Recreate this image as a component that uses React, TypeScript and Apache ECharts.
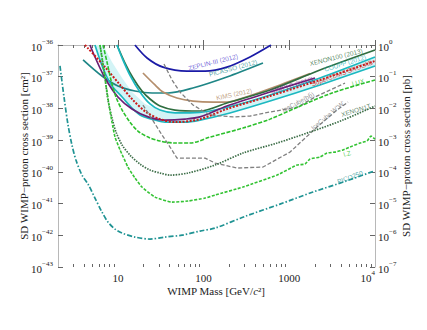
import { useEffect, useRef } from "react";
import * as echarts from "echarts";

// ---------- axes ----------
const massRange = [2, 10000];
const massMajorTicks = [10, 100, 1000, 10000];
const massMinorTicks = [3, 4, 5, 6, 7, 8, 9, 20, 30, 40, 50, 60, 70, 80, 90, 200, 300, 400, 500, 600, 700, 800, 900, 2000, 3000, 4000, 5000, 6000, 7000, 8000, 9000];
const cm2ExponentRange = [-43, -36];
const pbExponentRange = [-7, 0];

// ---------- curves (mass in GeV, cross section in cm^2) ----------
const zeplinMass = [15.8, 21.9, 33.6, 64, 104, 187, 348, 612];
const zeplinSigma = [1.0e-36, 3.9e-37, 2.0e-37, 1.5e-37, 1.5e-37, 2.0e-37, 4.2e-37, 1.0e-36];

const picassoMass = [3.92, 6.52, 10.0, 15.8, 25, 38.4, 75, 187, 493];
const picassoSigma = [3.4e-37, 1.05e-37, 5.1e-38, 3.54e-38, 3.06e-38, 3.06e-38, 4.4e-38, 9.8e-38, 2.7e-37];

const kimsMass = [19.6, 27.1, 33.6, 48.9, 75.2, 129, 187, 312, 778, 1745];
const kimsSigma = [1.31e-37, 5.5e-38, 3.3e-38, 2.13e-38, 1.71e-38, 1.59e-38, 1.59e-38, 2.29e-38, 5.5e-38, 1.25e-37];

const xenon100Mass = [9.76, 12.1, 15.0, 19.1, 23.7, 31.0, 46.4, 90.8, 187, 596, 2280, 10000];
const xenon100Sigma = [1.0e-36, 2.7e-37, 9.1e-38, 3.54e-38, 1.98e-38, 1.19e-38, 8.9e-39, 8.3e-39, 1.48e-38, 3.8e-38, 1.63e-37, 6.95e-37];

const couppMass = [9.76, 11.2, 13.8, 18.1, 23.7, 31.0, 46.4, 69.4, 119, 266, 596, 2280, 10000];
const couppSigma = [1.0e-36, 3.89e-37, 1.13e-37, 3.3e-38, 1.38e-38, 8.9e-39, 7.2e-39, 7.2e-39, 8.3e-39, 1.38e-38, 2.65e-38, 9.1e-38, 4.18e-37];

const bandLowerMass = [5.4, 6.18, 7.07, 8.53, 11.2, 14.6, 19.1, 27.1, 35.5, 60.7, 90.8, 203, 596, 2280, 10000];
const bandLowerSigma = [1.0e-36, 3.37e-37, 1.31e-37, 5.1e-38, 2.29e-38, 1.03e-38, 5.75e-39, 4.3e-39, 3.7e-39, 3.7e-39, 4.3e-39, 7.2e-39, 1.71e-38, 5.5e-38, 2.18e-37];

const bandUpperMass = [6.7, 8.53, 11.2, 14.6, 20.7, 31.0, 46.4, 69.4, 119, 266, 596, 2280, 10000];
const bandUpperSigma = [1.0e-36, 2.91e-37, 9.1e-38, 3.3e-38, 1.38e-38, 8.9e-39, 7.2e-39, 7.2e-39, 8.3e-39, 1.38e-38, 2.65e-38, 9.1e-38, 4.18e-37];

const simpleMass = [4.72, 5.4, 7.07, 10.0, 14.6, 22.5, 35.5, 60.7, 90.8, 187, 596, 1995];
const simpleSigma = [1.0e-36, 4.18e-37, 9.1e-38, 2.29e-38, 9.6e-39, 5.4e-39, 4.3e-39, 4.6e-39, 5.4e-39, 1.19e-38, 3.3e-38, 9.1e-38];

const snolabMass = [4.13, 7.07, 10.6, 15.0, 21.3, 31.0, 46.4, 90.8, 187, 596, 2280, 10000];
const snolabSigma = [1.0e-36, 2.02e-37, 5.5e-38, 1.84e-38, 7.7e-39, 4.6e-39, 3.7e-39, 4.6e-39, 9.6e-39, 2.46e-38, 7.9e-38, 3.13e-37];

const iceBBMass = [34.5, 42.8, 53.0, 75.2, 119, 220, 348, 521, 1262, 1995, 4467];
const iceBBSigma = [2.52e-37, 7.9e-38, 3.3e-38, 1.28e-38, 6.2e-39, 5.4e-39, 5.75e-39, 7.2e-39, 1.11e-38, 2.29e-38, 6.3e-38];

const iceWWMass = [19.6, 25.0, 32.7, 40.6, 48.9, 104, 136, 245, 493, 1019, 2104, 3603, 4842];
const iceWWSigma = [1.28e-38, 4.6e-39, 1.45e-39, 6.05e-40, 2.72e-40, 2.72e-40, 1.9e-40, 1.32e-40, 1.42e-40, 4.2e-40, 2.59e-39, 8.9e-39, 1.59e-38];

const luxMass = [6.7, 7.46, 8.3, 9.5, 11.2, 13.8, 17.1, 22.5, 31.0, 46.4, 69.4, 119, 288, 596, 1262, 3148, 10000];
const luxSigma = [1.0e-36, 2.91e-37, 7.9e-38, 2.29e-38, 8.9e-39, 3.72e-39, 1.94e-39, 1.25e-39, 9.4e-40, 8.1e-40, 8.1e-40, 1.25e-39, 2.41e-39, 4.6e-39, 1.11e-38, 3.06e-38, 7.9e-38];

const xenon1tMass = [6.18, 6.88, 7.66, 8.53, 9.5, 11.2, 13.8, 18.1, 23.7, 31.0, 40.6, 65.8, 136, 288, 719, 1745, 4227, 10000];
const xenon1tSigma = [1.0e-36, 1.63e-37, 1.84e-38, 4.98e-39, 1.8e-39, 7.0e-40, 3.39e-40, 1.76e-40, 1.14e-40, 9.2e-41, 7.9e-41, 9.2e-41, 1.64e-40, 3.92e-40, 8.1e-40, 1.8e-39, 4.3e-39, 1.19e-38];

const lzMass = [6.18, 6.7, 7.26, 7.87, 8.53, 9.25, 10.6, 13.1, 15.8, 19.1, 27.1, 42.8, 65.8, 104, 136, 288, 719, 1230, 1524, 1745, 2280, 2754, 3412, 4227, 5105, 6676, 8070, 8980, 10000];
const lzSigma = [1.0e-36, 2.34e-37, 5.5e-38, 1.28e-38, 3.72e-39, 1.25e-39, 4.9e-40, 1.42e-40, 6.4e-41, 3.32e-41, 1.6e-41, 1.11e-41, 1.2e-41, 1.49e-41, 1.85e-41, 3.32e-41, 7.9e-41, 1.64e-40, 1.76e-40, 2.54e-40, 2.93e-40, 3.92e-40, 4.2e-40, 4.9e-40, 6.05e-40, 8.1e-40, 9.4e-40, 1.35e-39, 1.08e-39];

const pico250Mass = [2.11, 2.35, 2.62, 2.91, 3.24, 3.81, 4.48, 5.4, 6.52, 7.66, 9.25, 11.2, 15.8, 23.7, 35.5, 56, 90.8, 136, 312, 778, 1888, 4585, 9730];
const pico250Sigma = [2.18e-37, 2.29e-38, 2.99e-39, 7.0e-40, 2.35e-40, 7.9e-41, 4.12e-41, 1.49e-41, 5.4e-42, 2.61e-42, 1.57e-42, 1.17e-42, 8.8e-43, 7.6e-43, 8.8e-43, 1.01e-42, 1.36e-42, 1.69e-42, 4.04e-42, 9.6e-42, 2.31e-41, 5.1e-41, 1.06e-40];

// ---------- curve labels (anchor in data coordinates) ----------
const labelTexts = ["ZEPLIN-III (2012)", "PICASSO (2012)", "KIMS (2012)", "SIMPLE (2012)", "XENON100 (2013)", "COUPP (2012)", "SuperCDMS SNOLAB", "IceCube(bb\u0304)", "IceCube W\u207AW\u207B", "LUX", "XENON1T", "LZ", "PICO250"];
const labelMass = [129, 220, 226, 1075, 3508, 4467, 4121, 1262, 2830, 6335, 6000, 4710, 5108];
const labelSigma = [2.9e-37, 1.88e-37, 2.84e-38, 5.5e-38, 4.18e-37, 2.7e-37, 1.31e-37, 1.59e-38, 6.2e-39, 6.8e-38, 8.9e-39, 3.8e-40, 6.86e-41];

const labelStyle: Record<string, { color: string; rotate: number }> = {
  "ZEPLIN-III (2012)": { color: "#4f42cf", rotate: 14 },
  "PICASSO (2012)": { color: "#1f8d8d", rotate: 15 },
  "KIMS (2012)": { color: "#b08a68", rotate: 12 },
  "SIMPLE (2012)": { color: "#7a2a86", rotate: 17 },
  "XENON100 (2013)": { color: "#2f6e40", rotate: 14 },
  "COUPP (2012)": { color: "#1cb5bd", rotate: 17 },
  "SuperCDMS SNOLAB": { color: "#cc2020", rotate: 20 },
  "IceCube(bb\u0304)": { color: "#7a7a7a", rotate: 28 },
  "IceCube W\u207AW\u207B": { color: "#7a7a7a", rotate: 40 },
  LUX: { color: "#2cc02c", rotate: 15 },
  XENON1T: { color: "#3d6e48", rotate: 17 },
  LZ: { color: "#33c333", rotate: 15 },
  PICO250: { color: "#1f9393", rotate: 20 },
};

const lg = Math.log10;
const pts = (m: number[], s: number[]) => m.map((v, i) => [lg(v), lg(s[i])]);
const supText = (e: number) => (e < 0 ? "\u2212" + Math.abs(e) : String(e));

const SERIF = '"Liberation Serif", "DejaVu Serif", serif';
const SANS = '"Liberation Sans", Arial, sans-serif';
const TEXT = "#222";
const FRAME = "#b8b8b8";
const TICK = "#666";

const rich = {
  b: { fontFamily: SERIF, fontSize: 11, color: TEXT, lineHeight: 14, verticalAlign: "bottom" },
  s: { fontFamily: SERIF, fontSize: 7, color: TEXT, lineHeight: 8, verticalAlign: "top" },
};

function line(name: string, m: number[], s: number[], color: string, width: number, type: any, smooth: number | boolean) {
  return {
    type: "line",
    name,
    data: pts(m, s),
    xAxisIndex: 0,
    yAxisIndex: 0,
    showSymbol: false,
    symbol: "none",
    smooth,
    silent: true,
    z: 3,
    lineStyle: { color, width, type },
  };
}

export default function App() {
  const ref = useRef<HTMLDivElement>(null);

  useEffect(() => {
    if (!ref.current) return;
    const chart = echarts.init(ref.current, null, { renderer: "svg" });
    const xMin = lg(massRange[0]);
    const xMax = lg(massRange[1]);
    const majors = massMajorTicks.map(lg);
    const minors = massMinorTicks.map(lg);
    const gridBox = { left: 58, right: 52, top: 45, bottom: 63, containLabel: false, outerBoundsMode: "none" };

    const option: any = {
      animation: false,
      grid: [gridBox, gridBox],
      xAxis: [
        {
          gridIndex: 0, type: "value", position: "bottom", min: xMin, max: xMax,
          axisLine: { show: true, lineStyle: { color: FRAME, width: 1 } },
          axisTick: { show: true, inside: true, length: 5, customValues: majors, lineStyle: { color: TICK } },
          axisLabel: {
            show: true, customValues: majors, margin: 2, rich, alignMaxLabel: "right",
            formatter: (v: number) => {
              const e = Math.round(v);
              return e <= 3 ? `{b|${Math.pow(10, e)}}` : `{b|10}{s|${supText(e)}}`;
            },
          },
          splitLine: { show: false },
        },
        {
          gridIndex: 0, type: "value", position: "top", min: xMin, max: xMax,
          axisLine: { show: true, lineStyle: { color: FRAME, width: 1 } },
          axisTick: { show: true, inside: true, length: 5, customValues: majors, lineStyle: { color: TICK } },
          axisLabel: { show: false },
          splitLine: { show: false },
        },
        {
          gridIndex: 1, type: "value", position: "bottom", min: xMin, max: xMax,
          axisLine: { show: false },
          axisTick: { show: true, inside: true, length: 3, customValues: minors, lineStyle: { color: TICK } },
          axisLabel: { show: false },
          splitLine: { show: false },
        },
        {
          gridIndex: 1, type: "value", position: "top", min: xMin, max: xMax,
          axisLine: { show: false },
          axisTick: { show: true, inside: true, length: 3, customValues: minors, lineStyle: { color: TICK } },
          axisLabel: { show: false },
          splitLine: { show: false },
        },
      ],
      yAxis: [
        {
          gridIndex: 0, type: "value", position: "left", min: cm2ExponentRange[0], max: cm2ExponentRange[1], interval: 1,
          axisLine: { show: true, lineStyle: { color: FRAME, width: 1 } },
          axisTick: { show: true, inside: true, length: 5, lineStyle: { color: TICK } },
          axisLabel: { show: true, margin: 5, rich, formatter: (v: number) => `{b|10}{s|${supText(Math.round(v))}}` },
          splitLine: { show: false },
        },
        {
          gridIndex: 0, type: "value", position: "right", min: pbExponentRange[0], max: pbExponentRange[1], interval: 1,
          axisLine: { show: true, lineStyle: { color: FRAME, width: 1 } },
          axisTick: { show: true, inside: true, length: 5, lineStyle: { color: TICK } },
          axisLabel: { show: true, margin: 3, rich, formatter: (v: number) => `{b|10}{s|${supText(Math.round(v))}}` },
          splitLine: { show: false },
        },
        {
          gridIndex: 1, type: "value", show: false, min: cm2ExponentRange[0], max: cm2ExponentRange[1],
        },
      ],
      series: [
        {
          type: "custom",
          xAxisIndex: 0,
          yAxisIndex: 0,
          data: [[1, -40]],
          silent: true,
          clip: true,
          z: 1,
          renderItem: (_params: any, api: any) => {
            const lower = pts(bandLowerMass, bandLowerSigma).map((p) => api.coord(p));
            const upper = pts(bandUpperMass, bandUpperSigma).map((p) => api.coord(p)).reverse();
            return {
              type: "polygon",
              shape: { points: [...lower, ...upper] },
              style: { fill: "#d3f4f6" },
            };
          },
        },
        line("ZEPLIN-III (2012)", zeplinMass, zeplinSigma, "#1a1aa6", 1.7, "solid", 0.3),
        line("PICASSO (2012)", picassoMass, picassoSigma, "#1f8686", 1.7, "solid", 0.3),
        line("KIMS (2012)", kimsMass, kimsSigma, "#b48e6c", 1.7, "solid", 0.3),
        line("XENON100 (2013)", xenon100Mass, xenon100Sigma, "#2f6e40", 1.7, "solid", 0.3),
        line("COUPP band lower", bandLowerMass, bandLowerSigma, "#1cb8c0", 1.7, "solid", 0.3),
        line("COUPP (2012)", couppMass, couppSigma, "#1cb8c0", 1.7, "solid", 0.3),
        line("SIMPLE (2012)", simpleMass, simpleSigma, "#6b1f75", 1.7, "solid", 0.3),
        line("SuperCDMS SNOLAB", snolabMass, snolabSigma, "#cc1a1a", 2, [2, 1.5], 0.3),
        line("IceCube bb", iceBBMass, iceBBSigma, "#808080", 1.3, [4, 2], false),
        line("IceCube WW", iceWWMass, iceWWSigma, "#808080", 1.3, [4, 2], false),
        line("LUX", luxMass, luxSigma, "#2cc02c", 1.6, [4, 1.5], 0.3),
        line("XENON1T", xenon1tMass, xenon1tSigma, "#3d6e48", 1.7, [1.5, 1.2], 0.3),
        line("LZ", lzMass, lzSigma, "#33c333", 1.6, [3, 1.5], 0.15),
        line("PICO250", pico250Mass, pico250Sigma, "#1f9393", 1.7, [5, 2, 1.5, 2], 0.3),
        {
          type: "scatter",
          xAxisIndex: 0,
          yAxisIndex: 0,
          silent: true,
          z: 5,
          symbolSize: 1,
          itemStyle: { color: "rgba(0,0,0,0)" },
          data: labelTexts.map((t, i) => ({
            name: t,
            value: [lg(labelMass[i]), lg(labelSigma[i])],
            label: {
              show: true,
              position: "inside",
              formatter: "{b}",
              rotate: labelStyle[t].rotate,
              color: labelStyle[t].color,
              fontSize: 6.5,
              fontFamily: SANS,
            },
          })),
        },
      ],
      graphic: [
        {
          type: "text", x: 24, y: 156, rotation: Math.PI / 2,
          style: { text: "SD WIMP\u2212proton cross section [cm\u00B2]", font: `11px ${SERIF}`, fill: TEXT, align: "center", verticalAlign: "middle" },
        },
        {
          type: "text", x: 406, y: 156, rotation: Math.PI / 2,
          style: { text: "SD WIMP\u2212proton cross section [pb]", font: `11px ${SERIF}`, fill: TEXT, align: "center", verticalAlign: "middle" },
        },
        {
          type: "text", x: 216, y: 291,
          style: {
            text: "{a|WIMP Mass [GeV/}{i|c}{a|\u00B2]}",
            align: "center", verticalAlign: "middle",
            rich: {
              a: { fontFamily: SERIF, fontSize: 11, fill: TEXT, color: TEXT },
              i: { fontFamily: SERIF, fontSize: 11, fontStyle: "italic", fill: TEXT, color: TEXT },
            },
          },
        },
      ],
    };

    chart.setOption(option);
    return () => chart.dispose();
  }, []);

  return <div ref={ref} style={{ position: "fixed", left: 0, top: 0, width: 427, height: 330, background: "#fff" }} />;
}
